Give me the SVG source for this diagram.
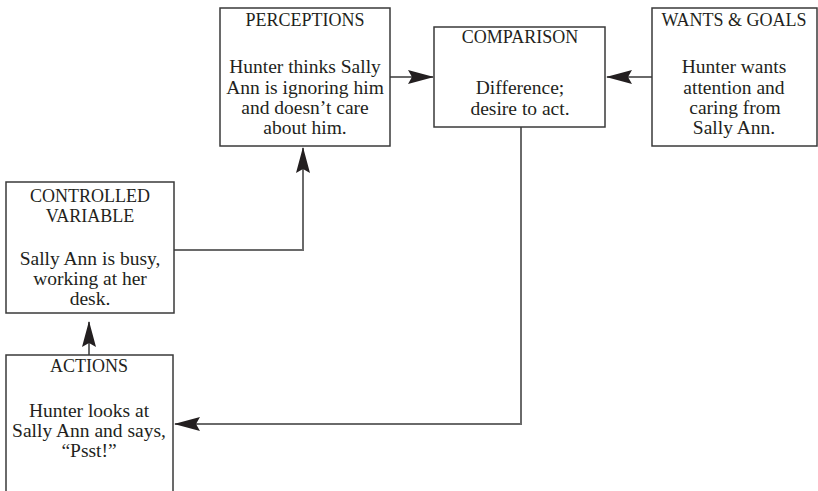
<svg xmlns="http://www.w3.org/2000/svg" width="818" height="491" viewBox="0 0 818 491">
  <defs>
    <style>
      .box { fill: #ffffff; stroke: #3a3a3a; stroke-width: 1.5; }
      .wire { fill: none; stroke: #6a6a6a; stroke-width: 2; }
      .title { font-family: "Liberation Serif", "Times New Roman", serif; font-size: 18px; fill: #231f20; text-anchor: middle; }
      .body { font-family: "Liberation Serif", "Times New Roman", serif; font-size: 19.5px; fill: #231f20; text-anchor: middle; }
    </style>
    <marker id="head" viewBox="0 0 26 14" refX="25" refY="7" markerWidth="26" markerHeight="14" markerUnits="userSpaceOnUse" orient="auto">
      <path d="M0,0 L26,7 L0,14 L4,7 Z" fill="#231f20"/>
    </marker>
  </defs>

  <rect width="818" height="491" fill="#ffffff"/>

  <!-- connectors -->
  <g id="connectors">
    <path class="wire" d="M390,77 H433" marker-end="url(#head)"/>
    <path class="wire" d="M652,77 H607" marker-end="url(#head)"/>
    <path class="wire" d="M521,127 V424 H175" marker-end="url(#head)"/>
    <path class="wire" d="M89,355 V322" marker-end="url(#head)"/>
    <path class="wire" d="M174,250 H303 V148" marker-end="url(#head)"/>
  </g>

  <g id="perceptions">
    <rect class="box" x="220" y="8" width="170" height="138"/>
    <text class="title" x="305" y="26">PERCEPTIONS</text>
    <text class="body" x="305" y="73">Hunter thinks Sally</text>
    <text class="body" x="305" y="94">Ann is ignoring him</text>
    <text class="body" x="305" y="114">and doesn’t care</text>
    <text class="body" x="305" y="134">about him.</text>
  </g>

  <g id="comparison">
    <rect class="box" x="434" y="27" width="171" height="100"/>
    <text class="title" x="520" y="43">COMPARISON</text>
    <text class="body" x="520" y="94">Difference;</text>
    <text class="body" x="520" y="115">desire to act.</text>
  </g>

  <g id="wants-goals">
    <rect class="box" x="652" y="8" width="165" height="138"/>
    <text class="title" x="734" y="26">WANTS &amp; GOALS</text>
    <text class="body" x="734" y="73">Hunter wants</text>
    <text class="body" x="734" y="94">attention and</text>
    <text class="body" x="735" y="114">caring from</text>
    <text class="body" x="734" y="134">Sally Ann.</text>
  </g>

  <g id="controlled-variable">
    <rect class="box" x="6" y="182" width="168" height="131"/>
    <text class="title" x="90" y="202">CONTROLLED</text>
    <text class="title" x="90" y="222">VARIABLE</text>
    <text class="body" x="90" y="265">Sally Ann is busy,</text>
    <text class="body" x="90" y="285">working at her</text>
    <text class="body" x="90" y="305">desk.</text>
  </g>

  <g id="actions">
    <rect class="box" x="6" y="355" width="167" height="150"/>
    <text class="title" x="89" y="372">ACTIONS</text>
    <text class="body" x="89" y="417">Hunter looks at</text>
    <text class="body" x="89" y="437">Sally Ann and says,</text>
    <text class="body" x="89" y="457">“Psst!”</text>
  </g>
</svg>
